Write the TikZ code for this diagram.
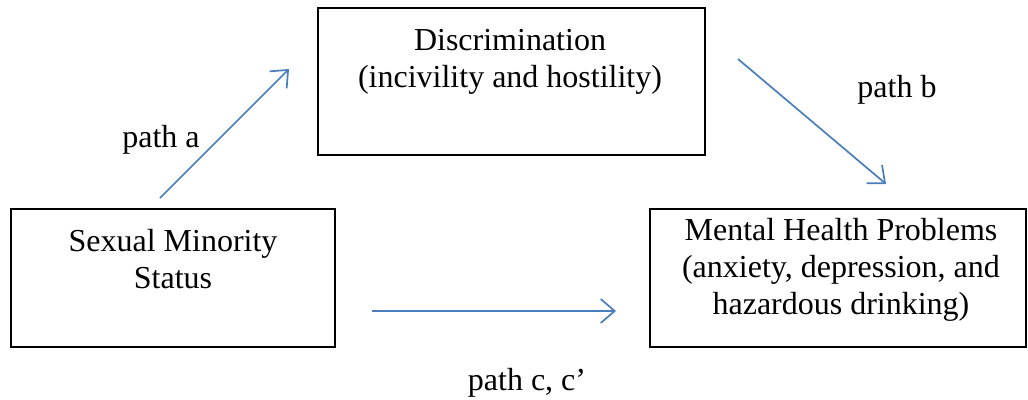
\documentclass[tikz,border=0pt]{standalone}
\usepackage{fontspec}
\setmainfont{Liberation Serif}
\usetikzlibrary{arrows.meta}
\definecolor{arrowblue}{RGB}{74,126,187}
\begin{document}
\begin{tikzpicture}[x=1pt,y=-1pt,
  box/.style={draw=black, line width=2pt, inner sep=0pt, rectangle},
  txt/.style={font=\fontsize{32}{37}\selectfont, align=center, inner sep=0pt, anchor=base},
  link/.style={draw=arrowblue, line width=1.7pt, -{Straight Barb[length=14pt,width=24pt]}}]
\useasboundingbox (0,0) rectangle (1028,399);
% boxes
\node[box, minimum width=387pt, minimum height=147pt] (disc) at (511.5,81.5) {};
\node[box, minimum width=324pt, minimum height=138pt] (sms) at (173,278) {};
\node[box, minimum width=376pt, minimum height=138pt] (mhp) at (838,278) {};
% texts (anchor=base is the baseline of the last line)
\node[txt] (disctext) at (510,87) {Discrimination\\(incivility and hostility)};
\node[txt] (smstext) at (173,288) {Sexual Minority\\Status};
\node[txt] (mhptext) at (841,314) {Mental Health Problems\\(anxiety, depression, and\\hazardous drinking)};
% arrow ends
\coordinate (a1) at (160,198);
\coordinate (a2) at (289,69);
\coordinate (b1) at (738,59);
\coordinate (b2) at (886,184);
\coordinate (c1) at (372,311);
\coordinate (c2) at (616,311);
\draw[link] (a1) -- (a2);
\draw[link] (b1) -- (b2);
\draw[link] (c1) -- (c2);
% labels
\node[txt] (pa) at (161,147) {path a};
\node[txt] (pb) at (897,97) {path b};
\node[txt] (pc) at (527,390) {path c, c’};
\end{tikzpicture}
\end{document}
